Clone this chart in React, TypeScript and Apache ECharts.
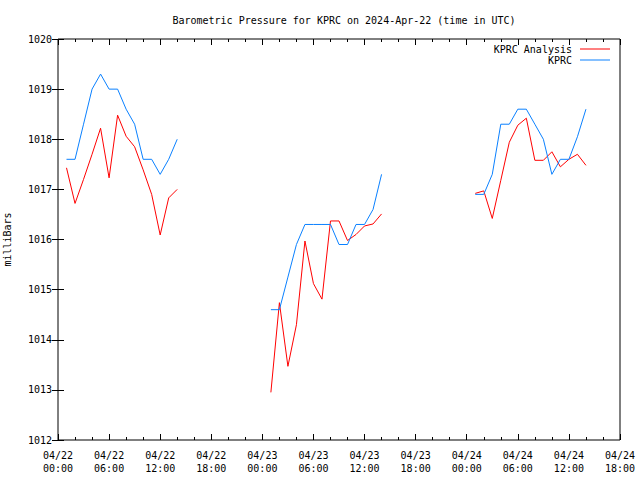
import React, { useEffect, useRef } from "react";
import * as echarts from "echarts";

// Hours since 2024-04-22 00:00 UTC, one list per data run
const hoursA = [1, 2, 3, 4, 5, 6, 7, 8, 9, 10, 11, 12, 13, 14];
const hoursB = [25, 26, 27, 28, 29, 30, 31, 32, 33, 34, 35, 36, 37, 38];
const hoursC = [49, 50, 51, 52, 53, 54, 55, 56, 57, 58, 59, 60, 61, 62];

// KPRC observed (mb)
const kprcA = [1017.6, 1017.6, 1018.3, 1019.0, 1019.3, 1019.0, 1019.0, 1018.6, 1018.3, 1017.6, 1017.6, 1017.3, 1017.6, 1018.0];
const kprcB = [1014.6, 1014.6, 1015.25, 1015.9, 1016.3, 1016.3, 1016.3, 1016.3, 1015.9, 1015.9, 1016.3, 1016.3, 1016.6, 1017.3];
const kprcC = [1016.9, 1016.9, 1017.3, 1018.3, 1018.3, 1018.6, 1018.6, 1018.3, 1018.0, 1017.3, 1017.6, 1017.6, 1018.05, 1018.6];

// KPRC Analysis (mb)
const anaA = [1017.43, 1016.72, 1017.2, 1017.7, 1018.22, 1017.23, 1018.48, 1018.06, 1017.85, 1017.39, 1016.9, 1016.09, 1016.83, 1017.0];
const anaB = [1012.95, 1014.74, 1013.47, 1014.3, 1015.97, 1015.12, 1014.81, 1016.37, 1016.37, 1015.98, 1016.1, 1016.27, 1016.31, 1016.51];
const anaC = [1016.92, 1016.97, 1016.42, 1017.18, 1017.94, 1018.28, 1018.42, 1017.58, 1017.58, 1017.75, 1017.45, 1017.6, 1017.7, 1017.48];

// X tick labels every 6 hours
const xTickLabels = [
  "04/22\n00:00", "04/22\n06:00", "04/22\n12:00", "04/22\n18:00",
  "04/23\n00:00", "04/23\n06:00", "04/23\n12:00", "04/23\n18:00",
  "04/24\n00:00", "04/24\n06:00", "04/24\n12:00", "04/24\n18:00",
];

const FONT = "DejaVu Sans Mono";

function build(hs: number[][], vs: number[][]) {
  const out: any[] = [];
  hs.forEach((h, i) => {
    if (i > 0) out.push([h[0] - 1, "-"]);
    h.forEach((x, j) => out.push([x, vs[i][j]]));
  });
  return out;
}

export default function App() {
  const ref = useRef<HTMLDivElement>(null);
  useEffect(() => {
    if (!ref.current) return;
    const chart = echarts.init(ref.current, null, { renderer: "svg" });
    const hs = [hoursA, hoursB, hoursC];
    const tickStyle = { show: true, inside: true, length: 6, lineStyle: { color: "#000", width: 1 } };
    const minorStyle = { show: true, splitNumber: 3, length: 3, lineStyle: { color: "#000", width: 1 } };
    chart.setOption({
      animation: false,
      backgroundColor: "#fff",
      title: {
        text: "Barometric Pressure for KPRC on 2024-Apr-22 (time in UTC)",
        left: 339,
        top: 10,
        textAlign: "center",
        textStyle: { fontFamily: FONT, fontSize: 10, fontWeight: "normal", color: "#000" },
      },
      legend: {
        right: 25,
        top: 39,
        orient: "vertical",
        align: "right",
        itemGap: 1,
        itemWidth: 30,
        itemHeight: 12,
        icon: "path://M0,5 L30,5 L30,6 L0,6 Z",
        textStyle: { fontFamily: FONT, fontSize: 10, color: "#000", padding: [0, 3, 0, 0] },
        data: ["KPRC Analysis", "KPRC"],
      },
      grid: {
        left: 58, right: 20, top: 39, bottom: 40,
        containLabel: false,
        outerBoundsMode: "none",
        show: true, borderColor: "#000", borderWidth: 1, backgroundColor: "transparent",
      },
      xAxis: [
        {
          type: "value", min: 0, max: 66, interval: 6,
          axisLine: { show: false },
          axisTick: tickStyle,
          minorTick: minorStyle,
          splitLine: { show: false },
          axisLabel: {
            fontFamily: FONT, fontSize: 10, color: "#000", lineHeight: 13, margin: 9,
            formatter: (v: number) => xTickLabels[Math.round(v / 6)] ?? "",
          },
        },
        {
          type: "value", min: 0, max: 66, interval: 6, position: "top",
          axisLine: { show: false },
          axisTick: tickStyle,
          minorTick: minorStyle,
          splitLine: { show: false },
          axisLabel: { show: false },
        },
      ],
      yAxis: [
        {
          type: "value", min: 1012, max: 1020, interval: 1,
          name: "milliBars", nameLocation: "middle", nameGap: 46, nameRotate: 90,
          nameTextStyle: { fontFamily: FONT, fontSize: 10, color: "#000" },
          axisLine: { show: false },
          axisTick: tickStyle,
          splitLine: { show: false },
          axisLabel: {
            fontFamily: FONT, fontSize: 10, color: "#000", margin: 6,
            formatter: (v: number) => String(v),
          },
        },
        {
          type: "value", min: 1012, max: 1020, interval: 1, position: "right",
          axisLine: { show: false },
          axisTick: tickStyle,
          splitLine: { show: false },
          axisLabel: { show: false },
        },
      ],
      series: [
        {
          name: "KPRC Analysis", type: "line", showSymbol: false, symbol: "none",
          connectNulls: false,
          lineStyle: { color: "#ff0000", width: 1 }, itemStyle: { color: "#ff0000" },
          data: build(hs, [anaA, anaB, anaC]),
        },
        {
          name: "KPRC", type: "line", showSymbol: false, symbol: "none",
          connectNulls: false,
          lineStyle: { color: "#0a80ff", width: 1 }, itemStyle: { color: "#0a80ff" },
          data: build(hs, [kprcA, kprcB, kprcC]),
        },
      ],
    });
    return () => chart.dispose();
  }, []);
  return <div ref={ref} style={{ position: "fixed", left: 0, top: 0, width: 640, height: 480 }} />;
}
